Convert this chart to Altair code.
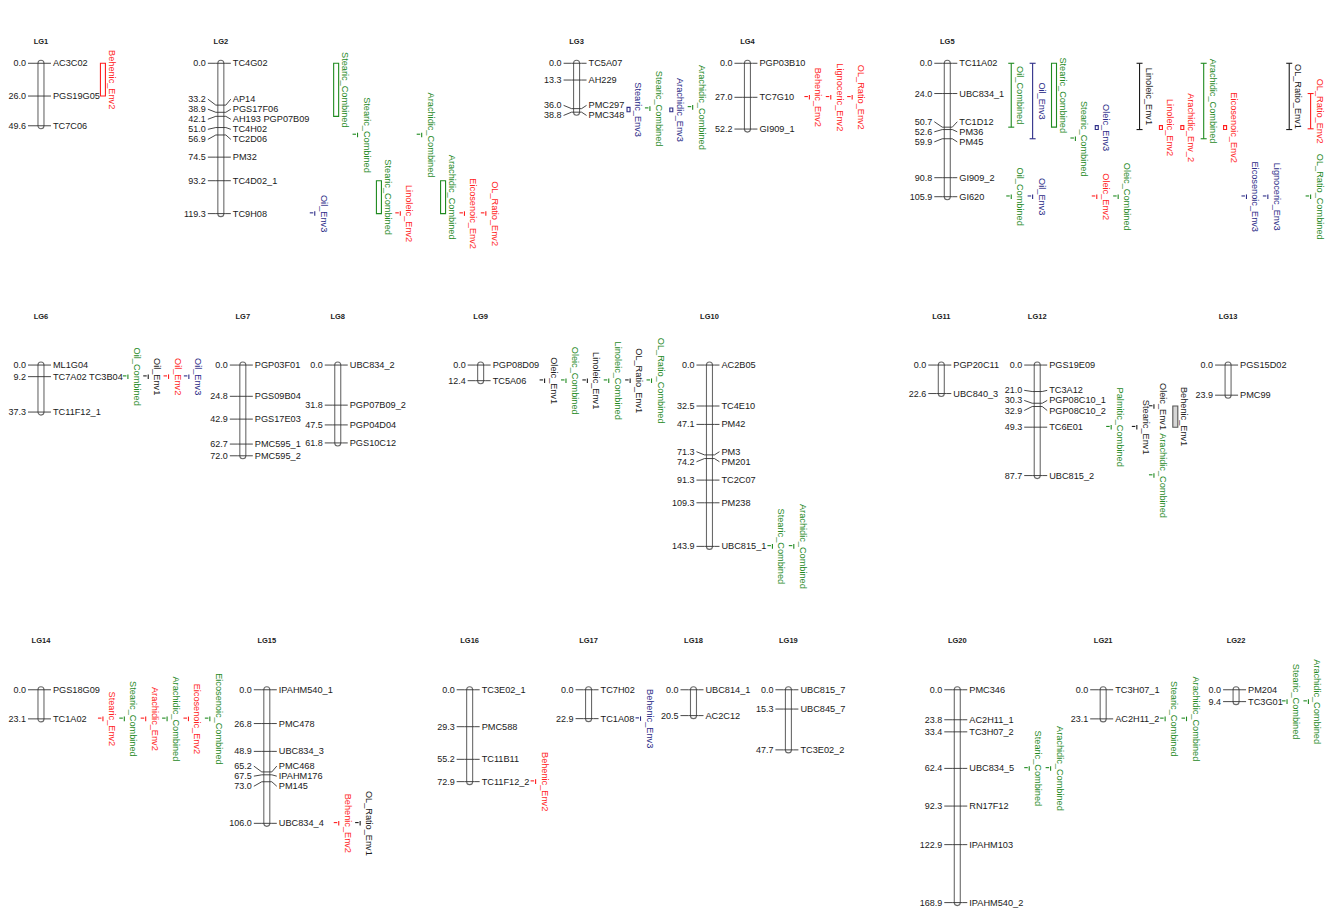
import altair as alt
import pandas as pd

# ---------------- data: linkage groups (marker names and positions in cM) ----------------
LG1_MARKERS = ["AC3C02", "PGS19G05", "TC7C06"]
LG1_CM = [0.0, 26.0, 49.6]
LG2_MARKERS = ["TC4G02", "AP14", "PGS17F06", "AH193 PGP07B09", "TC4H02", "TC2D06", "PM32", "TC4D02_1", "TC9H08"]
LG2_CM = [0.0, 33.2, 38.9, 42.1, 51.0, 56.9, 74.5, 93.2, 119.3]
LG3_MARKERS = ["TC5A07", "AH229", "PMC297", "PMC348"]
LG3_CM = [0.0, 13.3, 36.0, 38.8]
LG4_MARKERS = ["PGP03B10", "TC7G10", "GI909_1"]
LG4_CM = [0.0, 27.0, 52.2]
LG5_MARKERS = ["TC11A02", "UBC834_1", "TC1D12", "PM36", "PM45", "GI909_2", "GI620"]
LG5_CM = [0.0, 24.0, 50.7, 52.6, 59.9, 90.8, 105.9]
LG6_MARKERS = ["ML1G04", "TC7A02 TC3B04", "TC11F12_1"]
LG6_CM = [0.0, 9.2, 37.3]
LG7_MARKERS = ["PGP03F01", "PGS09B04", "PGS17E03", "PMC595_1", "PMC595_2"]
LG7_CM = [0.0, 24.8, 42.9, 62.7, 72.0]
LG8_MARKERS = ["UBC834_2", "PGP07B09_2", "PGP04D04", "PGS10C12"]
LG8_CM = [0.0, 31.8, 47.5, 61.8]
LG9_MARKERS = ["PGP08D09", "TC5A06"]
LG9_CM = [0.0, 12.4]
LG10_MARKERS = ["AC2B05", "TC4E10", "PM42", "PM3", "PM201", "TC2C07", "PM238", "UBC815_1"]
LG10_CM = [0.0, 32.5, 47.1, 71.3, 74.2, 91.3, 109.3, 143.9]
LG11_MARKERS = ["PGP20C11", "UBC840_3"]
LG11_CM = [0.0, 22.6]
LG12_MARKERS = ["PGS19E09", "TC3A12", "PGP08C10_1", "PGP08C10_2", "TC6E01", "UBC815_2"]
LG12_CM = [0.0, 21.0, 30.3, 32.9, 49.3, 87.7]
LG13_MARKERS = ["PGS15D02", "PMC99"]
LG13_CM = [0.0, 23.9]
LG14_MARKERS = ["PGS18G09", "TC1A02"]
LG14_CM = [0.0, 23.1]
LG15_MARKERS = ["IPAHM540_1", "PMC478", "UBC834_3", "PMC468", "IPAHM176", "PM145", "UBC834_4"]
LG15_CM = [0.0, 26.8, 48.9, 65.2, 67.5, 73.0, 106.0]
LG16_MARKERS = ["TC3E02_1", "PMC588", "TC11B11", "TC11F12_2"]
LG16_CM = [0.0, 29.3, 55.2, 72.9]
LG17_MARKERS = ["TC7H02", "TC1A08"]
LG17_CM = [0.0, 22.9]
LG18_MARKERS = ["UBC814_1", "AC2C12"]
LG18_CM = [0.0, 20.5]
LG19_MARKERS = ["UBC815_7", "UBC845_7", "TC3E02_2"]
LG19_CM = [0.0, 15.3, 47.7]
LG20_MARKERS = ["PMC346", "AC2H11_1", "TC3H07_2", "UBC834_5", "RN17F12", "IPAHM103", "IPAHM540_2"]
LG20_CM = [0.0, 23.8, 33.4, 62.4, 92.3, 122.9, 168.9]
LG21_MARKERS = ["TC3H07_1", "AC2H11_2"]
LG21_CM = [0.0, 23.1]
LG22_MARKERS = ["PM204", "TC3G01"]
LG22_CM = [0.0, 9.4]

LG_NAMES = [f"LG{i}" for i in range(1, 23)]
LG_MARKERS = [LG1_MARKERS, LG2_MARKERS, LG3_MARKERS, LG4_MARKERS, LG5_MARKERS, LG6_MARKERS,
              LG7_MARKERS, LG8_MARKERS, LG9_MARKERS, LG10_MARKERS, LG11_MARKERS, LG12_MARKERS,
              LG13_MARKERS, LG14_MARKERS, LG15_MARKERS, LG16_MARKERS, LG17_MARKERS, LG18_MARKERS,
              LG19_MARKERS, LG20_MARKERS, LG21_MARKERS, LG22_MARKERS]
LG_CM = [LG1_CM, LG2_CM, LG3_CM, LG4_CM, LG5_CM, LG6_CM, LG7_CM, LG8_CM, LG9_CM, LG10_CM,
         LG11_CM, LG12_CM, LG13_CM, LG14_CM, LG15_CM, LG16_CM, LG17_CM, LG18_CM, LG19_CM,
         LG20_CM, LG21_CM, LG22_CM]

# ---------------- data: QTLs (group, trait, interval start/end in cM) ----------------
QTL_LG = ["LG1",
          "LG2", "LG2", "LG2", "LG2", "LG2", "LG2", "LG2", "LG2", "LG2",
          "LG3", "LG3", "LG3", "LG3",
          "LG4", "LG4", "LG4",
          "LG5", "LG5", "LG5", "LG5", "LG5", "LG5", "LG5", "LG5", "LG5", "LG5", "LG5", "LG5",
          "LG5", "LG5", "LG5", "LG5", "LG5", "LG5", "LG5",
          "LG6", "LG6", "LG6", "LG6",
          "LG9", "LG9", "LG9", "LG9", "LG9", "LG9",
          "LG10", "LG10",
          "LG12", "LG12", "LG12", "LG12", "LG12",
          "LG14", "LG14", "LG14", "LG14", "LG14", "LG14",
          "LG15", "LG15",
          "LG16", "LG17",
          "LG20", "LG20", "LG21", "LG21", "LG22", "LG22"]
QTL_TRAIT = ["Behenic_Env2",
             "Oil_Env3", "Stearic_Combined", "Stearic_Combined", "Stearic_Combined", "Linoleic_Env2",
             "Arachidic_Combined", "Arachidic_Combined", "Eicosenoic_Env2", "OL_Ratio_Env2",
             "Stearic_Env3", "Stearic_Combined", "Arachidic_Env3", "Arachidic_Combined",
             "Behenic_Env2", "Lignoceric_Env2", "OL_Ratio_Env2",
             "Oil_Combined", "Oil_Env3", "Stearic_Combined", "Stearic_Combined", "Oleic_Env3",
             "Linoleic_Env1", "Linoleic_Env2", "Arachidic_Env_2", "Arachidic_Combined",
             "Eicosenoic_Env2", "OL_Ratio_Env1", "OL_Ratio_Env2",
             "Oil_Combined", "Oil_Env3", "Oleic_Env2", "Oleic_Combined", "Eicosenoic_Env3",
             "Lignoceric_Env3", "OL_Ratio_Combined",
             "Oil_Combined", "Oil_Env1", "Oil_Env2", "Oil_Env3",
             "Oleic_Env1", "Oleic_Combined", "Linoleic_Env1", "Linoleic_Combined", "OL_Ratio_Env1",
             "OL_Ratio_Combined",
             "Stearic_Combined", "Arachidic_Combined",
             "Palmitic_Combined", "Stearic_Env1", "Oleic_Env1", "Arachidic_Combined", "Behenic_Env1",
             "Stearic_Env2", "Stearic_Combined", "Arachidic_Env2", "Arachidic_Combined",
             "Eicosenoic_Env2", "Eicosenoic_Combined",
             "Behenic_Env2", "OL_Ratio_Env1",
             "Behenic_Env2", "Behenic_Env3",
             "Stearic_Combined", "Arachidic_Combined", "Stearic_Combined", "Arachidic_Combined",
             "Stearic_Combined", "Arachidic_Combined"]
QTL_START = [0.0,
             119.3, 0.0, 56.9, 93.2, 119.3, 56.9, 93.2, 119.3, 119.3,
             35.0, 36.0, 35.5, 35.0,
             27.0, 27.0, 27.0,
             0.0, 0.0, 0.0, 59.9, 49.5, 0.0, 49.5, 49.5, 0.0, 49.5, 0.0, 24.0,
             105.9, 105.9, 105.9, 105.9, 105.9, 105.9, 105.9,
             9.2, 9.2, 9.2, 9.2,
             12.4, 12.4, 12.4, 12.4, 12.4, 12.4,
             143.9, 143.9,
             49.3, 49.3, 32.9, 87.7, 32.5,
             23.1, 23.1, 23.1, 23.1, 23.1, 23.1,
             106.0, 106.0,
             72.9, 22.9,
             62.4, 62.4, 23.1, 23.1, 9.4, 9.4]
QTL_END = [26.0,
           119.3, 42.1, 56.9, 119.3, 119.3, 56.9, 119.3, 119.3, 119.3,
           38.5, 36.0, 38.5, 35.0,
           27.0, 27.0, 27.0,
           50.7, 59.9, 50.7, 59.9, 52.6, 52.6, 52.6, 52.6, 59.9, 52.6, 52.6, 52.0,
           105.9, 105.9, 105.9, 105.9, 105.9, 105.9, 105.9,
           9.2, 9.2, 9.2, 9.2,
           12.4, 12.4, 12.4, 12.4, 12.4, 12.4,
           143.9, 143.9,
           49.3, 49.3, 32.9, 87.7, 49.3,
           23.1, 23.1, 23.1, 23.1, 23.1, 23.1,
           106.0, 106.0,
           72.9, 22.9,
           62.4, 62.4, 23.1, 23.1, 9.4, 9.4]

# ---------------- layout (page positions / glyph styles) ----------------
LG_X = [40, 220, 576, 747, 947, 40, 242, 337, 480, 709, 941, 1037, 1228,
        40, 266, 469, 588, 693, 788, 957, 1103, 1236]
LG_ROW = [0] * 5 + [1] * 8 + [2] * 9
ROW_OFFSET = [0.0, 239.5, 497.2]        # cM-units shift of each row
TITLE_OFFSET = [-16.7, -38.1, -38.9]
QTL_FIRST = {"LG1": 62, "LG2": 94, "LG3": 52, "LG4": 62, "LG5": 64, "LG6": 87, "LG9": 64,
             "LG10": 63, "LG12": 74, "LG14": 62, "LG15": 72, "LG16": 66, "LG17": 52,
             "LG20": 72, "LG21": 62, "LG22": 51}
QTL_SPACING = 21.4
QTL_SLOT = [0,
            0, 1, 2, 3, 4, 5, 6, 7, 8,
            0, 1, 2, 3,
            0, 1, 2,
            0, 1, 2, 3, 4, 6, 7, 8, 9, 10, 13, 14,
            0, 1, 4, 5, 11, 12, 14,
            0, 0.95, 1.9, 2.85,
            0, 1, 2, 3, 4, 5,
            0, 1,
            0, 1.2, 2, 2, 3,
            0, 1, 2, 3, 4, 5,
            0, 1,
            0, 0,
            0, 1, 0, 1, 0, 1]
QTL_GLYPH = ["box",
             "tick", "box", "tick", "box", "tick", "tick", "box", "tick", "tick",
             "sbox", "tick", "sbox", "tick",
             "tick", "tick", "tick",
             "ibeam", "ibeam", "box", "tick", "sbox", "ibeam", "sbox", "sbox", "ibeam", "sbox",
             "ibeam", "ibeam",
             "tick", "tick", "tick", "tick", "tick", "tick", "tick",
             "tick", "tick", "tick", "tick",
             "tick", "tick", "tick", "tick", "tick", "tick",
             "tick", "tick",
             "tick", "tick", "tick", "tick", "gbox",
             "tick", "tick", "tick", "tick", "tick", "tick",
             "tick", "tick",
             "tick", "tick",
             "tick", "tick", "tick", "tick", "tick", "tick"]

COLORS = {"Combined": "#1f8a1f", "Env1": "#1c1c1c", "Env2": "#ff1e1e", "Env_2": "#ff1e1e",
          "Env3": "#2d2d88"}
FONT = "Liberation Sans"
FS = 9.2
FS_NUM = 9.0
GAP = 8.0
PX_PER_CM = 1.261
W, H = 1321, 894
Y0 = -43.6
Y1 = Y0 + H / PX_PER_CM


def trait_color(t):
    for k, v in COLORS.items():
        if t.endswith(k):
            return v
    return "#1c1c1c"


def spread(vals, gap=GAP):
    order = sorted(range(len(vals)), key=lambda i: vals[i])
    clusters = [[vals[i]] for i in order]

    def pos(c):
        m = sum(c) / len(c)
        n = len(c)
        return [m + (k - (n - 1) / 2) * gap for k in range(n)]

    changed = True
    while changed:
        changed = False
        for i in range(len(clusters) - 1):
            a, b = pos(clusters[i]), pos(clusters[i + 1])
            if b[0] - a[-1] < gap - 1e-9:
                clusters[i] = clusters[i] + clusters[i + 1]
                del clusters[i + 1]
                changed = True
                break
    out = []
    for c in clusters:
        out += pos(c)
    res = [0.0] * len(vals)
    for idx, o in zip(order, out):
        res[idx] = o
    return res


# ---------------- build tables ----------------
chrom_rows, seg_rows, pos_rows, name_rows, title_rows = [], [], [], [], []
for i, lg in enumerate(LG_NAMES):
    cx = LG_X[i]
    off = ROW_OFFSET[LG_ROW[i]]
    cms = LG_CM[i]
    chrom_rows.append({"x": cx - 3, "x2": cx + 3, "y": off + min(cms) - 2.4, "y2": off + max(cms) + 2.4})
    title_rows.append({"x": cx, "y": off + TITLE_OFFSET[LG_ROW[i]], "t": lg})
    lab = spread(cms)
    for name, cm, ly in zip(LG_MARKERS[i], cms, lab):
        y, yl = off + cm, off + ly
        seg_rows.append({"x": cx - 13, "x2": cx - 5, "y": yl, "y2": y})
        seg_rows.append({"x": cx - 5, "x2": cx + 5, "y": y, "y2": y})
        seg_rows.append({"x": cx + 5, "x2": cx + 10, "y": y, "y2": yl})
        pos_rows.append({"x": cx - 15, "y": yl, "t": f"{cm:.1f}"})
        name_rows.append({"x": cx + 12, "y": yl, "t": name})

q_rules, q_boxes, q_text = [], [], []
for lg, tr, s, e, slot, g in zip(QTL_LG, QTL_TRAIT, QTL_START, QTL_END, QTL_SLOT, QTL_GLYPH):
    i = LG_NAMES.index(lg)
    off = ROW_OFFSET[LG_ROW[i]]
    xq = LG_X[i] + QTL_FIRST[lg] + slot * QTL_SPACING
    c = trait_color(tr)
    mid = off + (s + e) / 2
    if g == "tick":
        q_rules.append({"x": xq, "x2": xq, "y": off + s - 1.8, "y2": off + s + 1.8, "c": c})
        q_rules.append({"x": xq - 5, "x2": xq - 1.5, "y": off + s - 0.6, "y2": off + s - 0.6, "c": c})
    elif g == "ibeam":
        q_rules.append({"x": xq, "x2": xq, "y": off + s, "y2": off + e, "c": c})
        q_rules.append({"x": xq - 3, "x2": xq + 3, "y": off + s, "y2": off + s, "c": c})
        q_rules.append({"x": xq - 3, "x2": xq + 3, "y": off + e, "y2": off + e, "c": c})
    elif g == "box":
        q_boxes.append({"x": xq - 2.5, "x2": xq + 2.5, "y": off + s, "y2": off + e, "c": c, "f": "#ffffff"})
    elif g == "sbox":
        q_boxes.append({"x": xq - 1.5, "x2": xq + 1.5, "y": off + s, "y2": off + e, "c": c, "f": "#ffffff"})
    elif g == "gbox":
        q_boxes.append({"x": xq - 2.5, "x2": xq + 2.5, "y": off + s, "y2": off + e, "c": "#555555", "f": "#d6d6d6"})
    q_text.append({"x": xq + 9, "y": mid, "t": tr, "c": c})

xs = alt.Scale(domain=[8, 8 + W], nice=False, zero=False)
ys = alt.Scale(domain=[Y0, Y1], reverse=True, nice=False, zero=False)
X = alt.X("x:Q", scale=xs, axis=None)
Y = alt.Y("y:Q", scale=ys, axis=None)

chrom = alt.Chart(pd.DataFrame(chrom_rows)).mark_rect(
    cornerRadius=3, fill="white", stroke="#6a6a6a", strokeWidth=1.1
).encode(x=X, x2="x2:Q", y=Y, y2="y2:Q")

segs = alt.Chart(pd.DataFrame(seg_rows)).mark_rule(color="#333333", strokeWidth=0.9).encode(
    x=X, x2="x2:Q", y=Y, y2="y2:Q")

qr = alt.Chart(pd.DataFrame(q_rules)).mark_rule(strokeWidth=1.1).encode(
    x=X, x2="x2:Q", y=Y, y2="y2:Q", color=alt.Color("c:N", scale=None))

qb = alt.Chart(pd.DataFrame(q_boxes)).mark_rect(strokeWidth=1.1).encode(
    x=X, x2="x2:Q", y=Y, y2="y2:Q",
    stroke=alt.Stroke("c:N", scale=None), fill=alt.Fill("f:N", scale=None))

pos_t = alt.Chart(pd.DataFrame(pos_rows)).mark_text(
    align="right", baseline="middle", font=FONT, fontSize=FS_NUM, color="#1a1a1a"
).encode(x=X, y=Y, text="t:N")

name_t = alt.Chart(pd.DataFrame(name_rows)).mark_text(
    align="left", baseline="middle", font=FONT, fontSize=FS, color="#1a1a1a"
).encode(x=X, y=Y, text="t:N")

qt = alt.Chart(pd.DataFrame(q_text)).mark_text(
    align="center", baseline="middle", font=FONT, fontSize=FS, angle=90
).encode(x=X, y=Y, text="t:N", color=alt.Color("c:N", scale=None))

titles = alt.Chart(pd.DataFrame(title_rows)).mark_text(
    align="center", baseline="middle", font=FONT, fontSize=7.5, fontWeight="bold", color="#222222"
).encode(x=X, y=Y, text="t:N")

chart = alt.layer(chrom, segs, qr, qb, pos_t, name_t, qt, titles).properties(
    width=W, height=H, padding=0, background="white"
).configure_view(stroke=None)

chart.save("out.html", embed_options={"renderer": "svg", "actions": False})
